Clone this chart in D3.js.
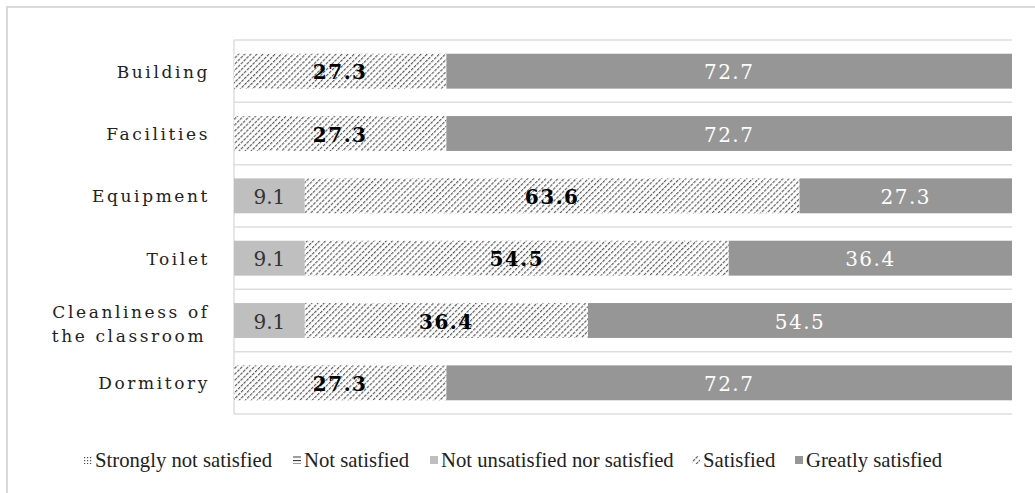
<!DOCTYPE html>
<html>
<head>
<meta charset="utf-8">
<script src="https://cdn.jsdelivr.net/npm/d3@7"></script>
<style>
  body { margin: 0; background: #fff; }
  svg { display: block; }
  .catLabel { font-family: "DejaVu Serif", serif; font-size: 17px; letter-spacing: 2.6px; fill: #222; }
  .legendText { font-family: "Liberation Serif", "Times New Roman", "DejaVu Serif", serif; font-size: 20.7px; fill: #222; }
  .valLabel { font-family: "DejaVu Serif", serif; font-size: 20px; letter-spacing: 1.5px; }
</style>
</head>
<body>
<svg id="chart" width="1035" height="493"></svg>
<script>
const categories = ["Building", "Facilities", "Equipment", "Toilet", "Cleanliness of the classroom", "Dormitory"];
const seriesNames = ["Strongly not satisfied", "Not satisfied", "Not unsatisfied nor satisfied", "Satisfied", "Greatly satisfied"];
const stronglyNot = [0, 0, 0, 0, 0, 0];
const notSatisfied = [0, 0, 0, 0, 0, 0];
const neutral = [0, 0, 9.1, 9.1, 9.1, 0];
const satisfied = [27.3, 27.3, 63.6, 54.5, 36.4, 27.3];
const greatly = [72.7, 72.7, 27.3, 36.4, 54.5, 72.7];

const svg = d3.select("#chart");

// patterns
const defs = svg.append("defs");
const hatch = defs.append("pattern")
    .attr("id", "hatch")
    .attr("patternUnits", "userSpaceOnUse")
    .attr("width", 4.3).attr("height", 4)
    .attr("patternTransform", "rotate(45)");
hatch.append("rect").attr("width", 4.3).attr("height", 4).attr("fill", "#fff");
hatch.append("line")
    .attr("x1", 0.6).attr("y1", 0).attr("x2", 0.6).attr("y2", 4)
    .attr("stroke", "#555").attr("stroke-width", 1.1)
    .attr("stroke-dasharray", "3,1");

const dots = defs.append("pattern")
    .attr("id", "dots")
    .attr("patternUnits", "userSpaceOnUse")
    .attr("width", 3).attr("height", 3);
dots.append("rect").attr("width", 3).attr("height", 3).attr("fill", "#fff");
dots.append("rect").attr("width", 1.2).attr("height", 1.2).attr("fill", "#444");

const hlines = defs.append("pattern")
    .attr("id", "hlines")
    .attr("patternUnits", "userSpaceOnUse")
    .attr("width", 4).attr("height", 3.5);
hlines.append("rect").attr("width", 4).attr("height", 3.5).attr("fill", "#fff");
hlines.append("rect").attr("width", 4).attr("height", 1).attr("fill", "#333");

const fills = ["url(#dots)", "url(#hlines)", "#bfbfbf", "url(#hatch)", "#969696"];
const labelColors = ["#000", "#000", "#333", "#000", "#fff"];
const labelWeights = ["normal", "normal", "normal", "bold", "normal"];

// outer frame
svg.append("rect")
    .attr("x", 7).attr("y", 7)
    .attr("width", 1200).attr("height", 700)
    .attr("fill", "none")
    .attr("stroke", "#d9d9d9")
    .attr("stroke-width", 2);

const margin = { left: 234, right: 1012, top: 40, bottom: 414 };

const xScale = d3.scaleLinear().domain([0, 100]).range([margin.left, margin.right]);
const yScale = d3.scaleBand().domain(categories).range([margin.top, margin.bottom]).paddingInner(0.44).paddingOuter(0.22);

// row gridlines
const rowBounds = d3.range(categories.length + 1).map(function (i) {
    return margin.top + i * (margin.bottom - margin.top) / categories.length;
});
svg.append("g").selectAll("line")
    .data(rowBounds)
    .join("line")
    .attr("x1", margin.left).attr("x2", margin.right)
    .attr("y1", d => d).attr("y2", d => d)
    .attr("stroke", "#dedede").attr("stroke-width", 1.5);

svg.append("line")
    .attr("x1", margin.left).attr("x2", margin.left)
    .attr("y1", margin.top).attr("y2", margin.bottom)
    .attr("stroke", "#dedede").attr("stroke-width", 1.5);

// stack data
const table = categories.map(function (c, i) {
    return {
        category: c,
        [seriesNames[0]]: stronglyNot[i],
        [seriesNames[1]]: notSatisfied[i],
        [seriesNames[2]]: neutral[i],
        [seriesNames[3]]: satisfied[i],
        [seriesNames[4]]: greatly[i]
    };
});
const stacked = d3.stack().keys(seriesNames)(table);

const layers = svg.append("g").selectAll("g")
    .data(stacked)
    .join("g")
    .attr("fill", (d, i) => fills[i]);

layers.selectAll("rect")
    .data(d => d.filter(p => p[1] - p[0] > 0))
    .join("rect")
    .attr("x", d => xScale(d[0]))
    .attr("width", d => xScale(d[1]) - xScale(d[0]))
    .attr("y", d => yScale(d.data.category))
    .attr("height", yScale.bandwidth());

// value labels
stacked.forEach(function (layer, i) {
    svg.append("g").selectAll("text")
        .data(layer.filter(p => p[1] - p[0] > 0))
        .join("text")
        .attr("class", "valLabel")
        .attr("x", d => (xScale(d[0]) + xScale(d[1])) / 2)
        .attr("y", d => yScale(d.data.category) + yScale.bandwidth() / 2)
        .attr("dy", "0.4em")
        .attr("text-anchor", "middle")
        .attr("fill", labelColors[i])
        .attr("font-weight", labelWeights[i])
        .style("letter-spacing", i === 2 ? "0px" : null)
        .text(d => (d[1] - d[0]).toFixed(1));
});

// category labels
const catG = svg.append("g");
categories.forEach(function (c) {
    const cy = yScale(c) + yScale.bandwidth() / 2;
    if (c === "Cleanliness of the classroom") {
        const t = catG.append("text")
            .attr("class", "catLabel")
            .attr("text-anchor", "middle");
        t.append("tspan").attr("x", 131).attr("y", cy - 3).text("Cleanliness of");
        t.append("tspan").attr("x", 129).attr("y", cy + 21).text("the classroom");
    } else {
        catG.append("text")
            .attr("class", "catLabel")
            .attr("text-anchor", "end")
            .attr("x", 210)
            .attr("y", cy)
            .attr("dy", "0.38em")
            .text(c);
    }
});

// legend
const legendX = [84, 293, 430, 692, 795];
const legend = svg.append("g").attr("transform", "translate(0,460)");
seriesNames.forEach(function (name, i) {
    legend.append("rect")
        .attr("x", legendX[i]).attr("y", -4)
        .attr("width", 8).attr("height", 8)
        .attr("fill", fills[i]);
    legend.append("text")
        .attr("class", "legendText")
        .attr("x", legendX[i] + 11)
        .attr("y", 0)
        .attr("dy", "0.33em")
        .text(name);
});
</script>
</body>
</html>
